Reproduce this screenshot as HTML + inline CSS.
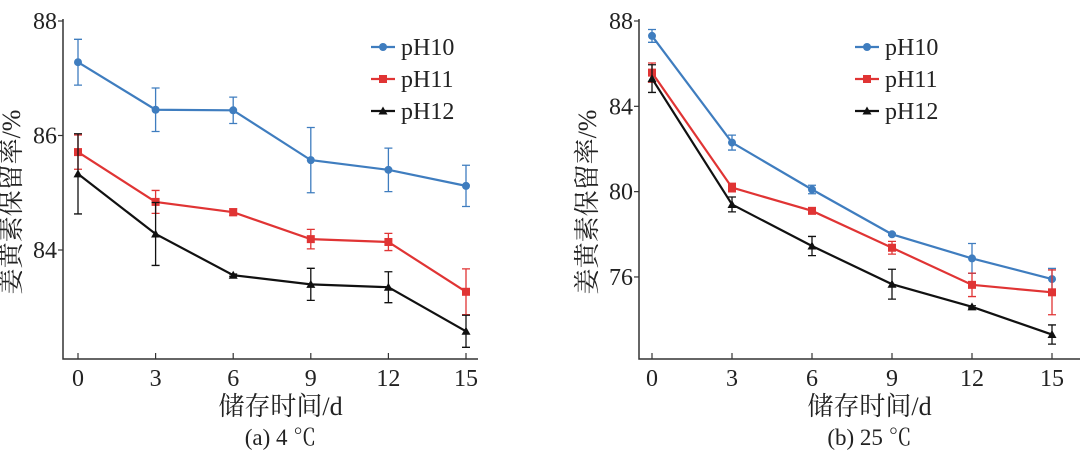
<!DOCTYPE html>
<html><head><meta charset="utf-8"><style>
html,body{margin:0;padding:0;background:#fff;width:1080px;height:455px;overflow:hidden}
svg text{font-family:"Liberation Serif","Noto Serif CJK SC",serif;fill:#222}
</style></head><body>
<svg id="chart" width="1080" height="455" viewBox="0 0 1080 455"></svg>
<script>
const days=[0,3,6,9,12,15];
const seriesNames=["pH10","pH11","pH12"];
const colors=["#3f7dbf","#e03434","#111111"];
const aPH10=[87.28,86.45,86.44,85.57,85.4,85.12];
const aPH11=[85.71,84.84,84.66,84.19,84.14,83.27];
const aPH12=[85.33,84.28,83.56,83.4,83.35,82.58];
const aErr10=[0.4,0.38,0.23,0.57,0.38,0.36];
const aErr11=[0.3,0.2,0.06,0.17,0.15,0.4];
const aErr12=[0.7,0.55,0.02,0.28,0.27,0.28];
const bPH10=[87.3,82.3,80.1,78.0,76.87,75.9];
const bPH11=[85.58,80.19,79.1,77.37,75.63,75.28];
const bPH12=[85.3,79.4,77.45,75.66,74.6,73.3];
const bErr10=[0.3,0.35,0.2,0.05,0.7,0.5];
const bErr11=[0.45,0.2,0.1,0.3,0.55,1.05];
const bErr12=[0.65,0.35,0.45,0.7,0.05,0.45];
const aTicks=[84,86,88];
const bTicks=[76,80,84,88];
const xTicks=[0,3,6,9,12,15];

const svg=document.getElementById('chart');
const NS='http://www.w3.org/2000/svg';
function mk(tag,attrs,parent){const e=document.createElementNS(NS,tag);for(const k in attrs)e.setAttribute(k,attrs[k]);(parent||svg).appendChild(e);return e;}

function panel(cfg){
  const g=mk('g',{});
  
  
  const xs=d=>cfg.x0+(d-0)*(cfg.x15-cfg.x0)/15;
  const ys=v=>cfg.yTop+(cfg.vTop-v)*cfg.ppu;
  const ax=mk('path',{d:`M${cfg.axX} ${cfg.yTop-2}V${cfg.axY}H${cfg.axEnd}`,stroke:'#333','stroke-width':1.5,fill:'none'},g);
  
  
  cfg.yTicks.forEach(t=>{
    mk('line',{x1:cfg.axX-5,x2:cfg.axX,y1:ys(t),y2:ys(t),stroke:'#333','stroke-width':1.2},g);
    const tx=mk('text',{x:cfg.axX-6,y:ys(t)+8,'text-anchor':'end','font-size':24},g);
    tx.textContent=t;
    
    
  });
  xTicks.forEach(t=>{
    mk('line',{x1:xs(t),x2:xs(t),y1:cfg.axY-6,y2:cfg.axY,stroke:'#333','stroke-width':1.2},g);
    const tx=mk('text',{x:xs(t),y:cfg.axY+27,'text-anchor':'middle','font-size':24},g);
    tx.textContent=t;
    
    
  });
  const yt=mk('text',{x:0,y:0,'text-anchor':'middle','font-size':26,transform:`translate(${cfg.axX-43},${(cfg.yTop+cfg.axY)/2+12}) rotate(-90)`},g);
  yt.textContent='姜黄素保留率/%';
  
  
  const xt=mk('text',{x:(cfg.axX+cfg.axEnd)/2+10,y:415,'text-anchor':'middle','font-size':26},g);
  xt.textContent='储存时间/d';
  
  
  const cap=mk('text',{x:(cfg.axX+cfg.axEnd)/2+10,y:445,'text-anchor':'middle','font-size':23},g);
  cap.textContent=cfg.caption;
  
  
  cfg.series.forEach((vals,si)=>{
    const c=colors[si];
    const sg=mk('g',{},g);
    
    
    vals.forEach((v,i)=>{
      const e=cfg.errs[si][i],x=xs(days[i]);
      mk('path',{d:`M${x} ${ys(v+e)}V${ys(v-e)}M${x-4} ${ys(v+e)}H${x+4}M${x-4} ${ys(v-e)}H${x+4}`,stroke:c,'stroke-width':1.3,fill:'none'},sg);
    });
    const ln=mk('polyline',{points:vals.map((v,i)=>xs(days[i])+','+ys(v)).join(' '),stroke:c,'stroke-width':2.2,fill:'none'},sg);
    
    
    vals.forEach((v,i)=>{
      const x=xs(days[i]),y=ys(v);
      let m;
      if(si===0)m=mk('circle',{cx:x,cy:y,r:4,fill:c},sg);
      else if(si===1)m=mk('rect',{x:x-4,y:y-4,width:8,height:8,fill:c},sg);
      else m=mk('path',{d:`M${x} ${y-4.5}L${x+4.5} ${y+3.5}L${x-4.5} ${y+3.5}Z`,fill:c},sg);
      
      
    });
    const ly=cfg.legY+si*32;
    const lg=mk('g',{},g);
    
    
    mk('line',{x1:cfg.legX,x2:cfg.legX+24,y1:ly,y2:ly,stroke:c,'stroke-width':2.2},lg);
    if(si===0)mk('circle',{cx:cfg.legX+12,cy:ly,r:4,fill:c},lg);
    else if(si===1)mk('rect',{x:cfg.legX+8,y:ly-4,width:8,height:8,fill:c},lg);
    else mk('path',{d:`M${cfg.legX+12} ${ly-4.5}l4.5 8h-9z`,fill:c},lg);
    const lt=mk('text',{x:cfg.legX+30,y:ly+8,'font-size':24},lg);
    lt.textContent=seriesNames[si];
  });
}
panel({name:'panel-a-4c',x0:78,x15:466,axX:63,axY:359,axEnd:478,yTop:21,vTop:88,ppu:57.25,yTicks:aTicks,
  series:[aPH10,aPH11,aPH12],errs:[aErr10,aErr11,aErr12],caption:'(a) 4 ℃',legX:371,legY:47});
panel({name:'panel-b-25c',x0:652,x15:1052,axX:639,axY:359,axEnd:1080,yTop:21,vTop:88,ppu:21.33,yTicks:bTicks,
  series:[bPH10,bPH11,bPH12],errs:[bErr10,bErr11,bErr12],caption:'(b) 25 ℃',legX:855,legY:47});
</script>
</body></html>
